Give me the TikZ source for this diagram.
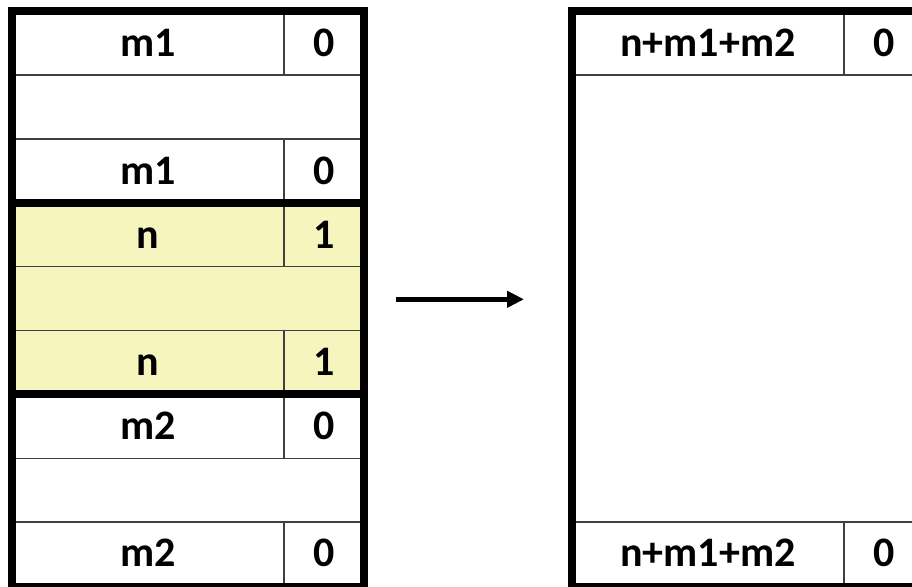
\documentclass[tikz,border=0pt]{standalone}
\usepackage{fontspec}
\setmainfont{Carlito}
\usetikzlibrary{arrows.meta}
\definecolor{cellyellow}{RGB}{246,245,190}
\definecolor{thingray}{RGB}{64,64,64}
\tikzset{
  thick border/.style={line width=7.7pt, line cap=rect},
  thin rule/.style={line width=1.4pt, draw=thingray},
  celltext/.style={font=\fontsize{42}{42}\selectfont\bfseries, inner sep=0pt, anchor=base},
  bigarrow/.style={line width=5pt, -{Triangle[length=17pt,width=16pt]}}
}
\begin{document}
\begin{tikzpicture}[x=1pt,y=-1pt]
\useasboundingbox (0,0) rectangle (912,586);
\begin{scope}
\clip (0,0) rectangle (912,586);
% ---- left block ----
\fill[white] (12,11) rectangle (364,202.7);
\fill[cellyellow] (12,202.7) rectangle (364,394.3);
\fill[white] (12,394.3) rectangle (364,586.5);
% thin horizontal rules
\foreach \y in {74.9,138.8,266.6,330.4,458.2,522.1}
  \draw[thin rule] (12,\y) -- (364,\y);
% thin vertical dividers
\draw[thin rule] (284,11) -- (284,74.9);
\draw[thin rule] (284,138.8) -- (284,266.6);
\draw[thin rule] (284,330.4) -- (284,458.2);
\draw[thin rule] (284,522.1) -- (284,586.5);
% thick rules
\draw[thick border] (12,202.7) -- (364,202.7);
\draw[thick border] (12,394.3) -- (364,394.3);
\draw[thick border] (12,11) rectangle (364,586.5);
% ---- right block ----
\draw[thin rule] (572,74.9) -- (924,74.9);
\draw[thin rule] (572,522.1) -- (924,522.1);
\draw[thin rule] (844,11) -- (844,74.9);
\draw[thin rule] (844,522.1) -- (844,586.5);
\draw[thick border] (572,11) rectangle (924,586.5);
\end{scope}
% ---- texts (baselines) ----
\node[celltext] (a1) at (148,56.5) {m1};
\node[celltext] (a1v) at (324,56.5) {0};
\node[celltext] (a3) at (148,184.3) {m1};
\node[celltext] (a3v) at (324,184.3) {0};
\node[celltext] (b1) at (148,248.1) {n};
\node[celltext] (b1v) at (324,248.1) {1};
\node[celltext] (b3) at (148,375.9) {n};
\node[celltext] (b3v) at (324,375.9) {1};
\node[celltext] (c1) at (148,439.8) {m2};
\node[celltext] (c1v) at (324,439.8) {0};
\node[celltext] (c3) at (148,566.5) {m2};
\node[celltext] (c3v) at (324,566.5) {0};
\node[celltext] (r1) at (708,56.5) {n+m1+m2};
\node[celltext] (r1v) at (884,56.5) {0};
\node[celltext] (r2) at (708,566.5) {n+m1+m2};
\node[celltext] (r2v) at (884,566.5) {0};
% ---- arrow ----
\coordinate (arrS) at (396,299.3);
\coordinate (arrE) at (524,299.3);
\draw[bigarrow] (arrS) -- (arrE);
\end{tikzpicture}
\end{document}
